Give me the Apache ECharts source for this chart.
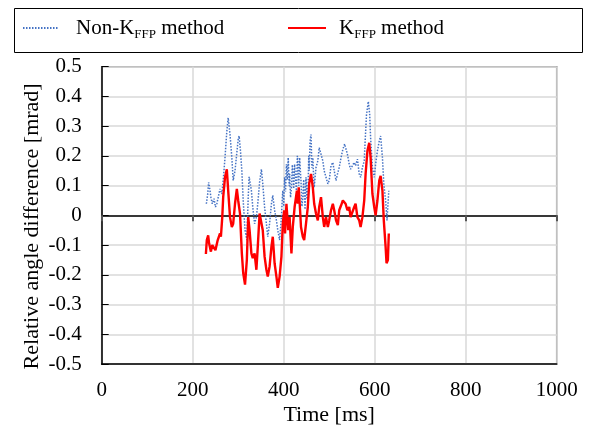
<!DOCTYPE html>
<html>
<head>
<meta charset="utf-8">
<script src="https://cdn.jsdelivr.net/npm/echarts@6/dist/echarts.min.js"></script>
<style>
html,body{margin:0;padding:0;background:#fff;}
#chart{width:590px;height:434px;}
</style>
</head>
<body>
<div id="chart"></div>
<script>
// Time [ms] vs relative angle difference [mrad]
const nonKffpData = [[230,0.039],[233,0.072],[235,0.111],[237,0.094],[240,0.061],[243,0.039],[247,0.056],[250,0.028],[253,0.039],[257,0.067],[260,0.089],[264,0.072],[267,0.117],[271,0.194],[275,0.283],[278,0.328],[282,0.272],[286,0.194],[289,0.117],[293,0.15],[297,0.211],[300,0.256],[302,0.267],[305,0.217],[308,0.15],[311,0.05],[315,-0.05],[319,-0.083],[322,0.06],[324,0.13],[329,0.083],[332,0.028],[336,-0.028],[340,-0.006],[343,0.039],[347,0.111],[351,0.155],[354,0.106],[358,0.028],[362,-0.028],[365,-0.072],[369,-0.028],[373,0.039],[376,0.067],[380,0.017],[384,-0.017],[387,-0.05],[391,-0.083],[395,-0.006],[397,0.06],[398,0.083],[400,0.03],[402,0.128],[404,0.08],[406,0.172],[408,0.12],[410,0.194],[412,0.1],[413,0.139],[415,0.06],[417,0.094],[419,0.17],[420,0.15],[422,0.09],[424,0.172],[426,0.12],[428,0.083],[430,0.2],[431,0.183],[433,0.1],[435,0.194],[437,0.14],[438,0.117],[440,0.03],[442,0.061],[444,0.12],[445,0.083],[447,0.02],[449,0.128],[451,0.06],[453,0.05],[455,0.2],[456,0.15],[458,0.25],[460,0.272],[462,0.16],[464,0.194],[466,0.12],[467,0.094],[471,0.161],[475,0.183],[478,0.228],[482,0.206],[486,0.183],[489,0.15],[493,0.128],[497,0.106],[500,0.117],[504,0.167],[508,0.178],[511,0.15],[515,0.117],[519,0.144],[522,0.161],[526,0.194],[530,0.222],[534,0.24],[536,0.228],[540,0.206],[544,0.172],[547,0.155],[551,0.167],[555,0.178],[558,0.167],[562,0.189],[566,0.139],[569,0.128],[573,0.161],[577,0.183],[579,0.25],[582,0.339],[586,0.383],[589,0.339],[591,0.261],[595,0.161],[599,0.128],[602,0.172],[606,0.217],[610,0.25],[613,0.267],[617,0.194],[620,0.106],[624,0.05],[627,-0.017],[631,0.083]];

const kffpData = [[229,-0.13],[231,-0.083],[234,-0.067],[236,-0.094],[240,-0.122],[243,-0.1],[247,-0.103],[250,-0.117],[255,-0.083],[258,-0.089],[260,-0.061],[262,-0.072],[265,-0.006],[267,0.061],[271,0.128],[275,0.155],[278,0.083],[282,-0.006],[286,-0.039],[289,-0.028],[293,0.039],[297,0.089],[300,0.05],[304,0.006],[308,-0.128],[311,-0.194],[315,-0.233],[319,-0.15],[322,-0.006],[325,-0.05],[329,-0.128],[332,-0.144],[336,-0.128],[340,-0.183],[343,-0.106],[347,0.006],[351,0.011],[354,-0.05],[358,-0.139],[362,-0.183],[365,-0.206],[369,-0.172],[373,-0.106],[376,-0.072],[380,-0.161],[384,-0.206],[387,-0.244],[391,-0.206],[395,-0.139],[398,-0.028],[401,0.017],[403,-0.061],[406,0.039],[410,-0.05],[413,-0.006],[417,-0.128],[420,-0.039],[424,0.028],[428,0.072],[429,0.083],[431,0.039],[433,0.094],[436,0.017],[438,-0.039],[442,-0.072],[445,-0.083],[449,-0.028],[453,0.028],[456,0.106],[460,0.139],[464,0.094],[467,0.039],[471,0.006],[475,-0.017],[478,0.028],[482,0.061],[486,-0.006],[489,-0.039],[493,-0.006],[497,-0.039],[500,-0.017],[504,0.017],[508,0.039],[511,0.017],[515,-0.017],[519,-0.033],[522,0.017],[526,0.033],[530,0.05],[533,0.056],[536,0.039],[540,0.017],[544,0.028],[547,-0.006],[551,0],[555,0.028],[558,0.039],[562,-0.006],[566,-0.017],[569,-0.039],[573,-0.006],[577,0.05],[580,0.139],[584,0.217],[588,0.244],[591,0.194],[595,0.072],[599,0.028],[602,0],[606,0.05],[610,0.117],[613,0.133],[617,0.083],[620,-0.017],[624,-0.106],[626,-0.161],[629,-0.15],[631,-0.061]];

const xTicks = {min: 0, max: 1000, interval: 200};
const yTicks = {min: -0.5, max: 0.5, interval: 0.1};
const seriesNames = ['Non-K{sub|FFP} method', 'K{sub|FFP} method'];

const FONT = '"Liberation Serif","Times New Roman",serif';
const richStyle = {
  sub: {fontFamily: FONT, fontSize: 13, lineHeight: 14, verticalAlign: 'bottom', color: '#000'}
};
const names = ['Non-KFFP method', 'KFFP method'];

const chart = echarts.init(document.getElementById('chart'), null, {renderer: 'canvas'});
const legendText = pad => ({fontFamily: FONT, fontSize: 21, lineHeight: 26, color: '#000', padding: [0,0,0,pad], rich: richStyle});
const option = {
  animation: false,
  backgroundColor: '#fff',
  graphic: [{
    type: 'rect', left: 12, top: 6, shape: {width: 568, height: 44},
    style: {fill: 'none', stroke: '#000', lineWidth: 1}, silent: true
  }],
  legend: [
    {data: [names[0]], left: 22, top: 15, padding: 0, itemWidth: 36, itemHeight: 10,
     itemStyle: {opacity: 0}, formatter: () => seriesNames[0], textStyle: legendText(12)},
    {data: [names[1]], left: 287, top: 15, padding: 0, itemWidth: 38, itemHeight: 10,
     itemStyle: {opacity: 0}, formatter: () => seriesNames[1], textStyle: legendText(8)}
  ],
  grid: {left: 101.7, right: 33.3, top: 66.7, bottom: 70, show: true, borderColor: '#777', borderWidth: 1.5, containLabel: false},
  xAxis: [{
    type: 'value', min: xTicks.min, max: xTicks.max, interval: xTicks.interval, position: 'bottom',
    axisLine: {onZero: false, lineStyle: {color: '#000', width: 1.5}},
    axisTick: {show: false},
    axisLabel: {fontFamily: FONT, fontSize: 21, color: '#000', margin: 16, formatter: v => String(v)},
    splitLine: {show: true, lineStyle: {color: '#d9d9d9', width: 1.5}},
    name: 'Time [ms]', nameLocation: 'middle', nameGap: 40, nameMoveOverlap: false,
    nameTextStyle: {fontFamily: FONT, fontSize: 22, color: '#000'}
  }, {
    type: 'value', min: xTicks.min, max: xTicks.max, interval: xTicks.interval, position: 'top',
    axisLine: {onZero: true, lineStyle: {color: '#000', width: 1.5}},
    axisTick: {show: true, inside: true, length: 6, lineStyle: {color: '#555', width: 2}},
    axisLabel: {show: false}, splitLine: {show: false}
  }],
  yAxis: {
    type: 'value', min: yTicks.min, max: yTicks.max, interval: yTicks.interval,
    axisLine: {show: true, lineStyle: {color: '#000', width: 1.5}},
    axisTick: {show: true, inside: true, length: 7, lineStyle: {color: '#000', width: 1}},
    axisLabel: {fontFamily: FONT, fontSize: 21, color: '#000', margin: 20,
      formatter: v => (Math.round(v * 10) / 10).toString()},
    splitLine: {show: true, lineStyle: {color: '#d9d9d9', width: 1.5}},
    name: 'Relative angle difference [mrad]', nameLocation: 'middle', nameGap: 58, nameRotate: 90,
    nameMoveOverlap: false,
    nameTextStyle: {fontFamily: FONT, fontSize: 22, color: '#000', padding: [0, 22, 0, 0]}
  },
  series: [{
    name: names[0], type: 'line', xAxisIndex: 0, data: nonKffpData, symbol: 'none', smooth: false,
    lineStyle: {color: '#4472C4', width: 1.5, type: [1.5, 1.5]}, itemStyle: {color: '#4472C4'}
  }, {
    name: names[1], type: 'line', xAxisIndex: 0, data: kffpData, symbol: 'none', smooth: false,
    lineStyle: {color: '#FF0000', width: 2.4}, itemStyle: {color: '#FF0000'}
  }]
};
chart.setOption(option);
</script>
</body>
</html>
